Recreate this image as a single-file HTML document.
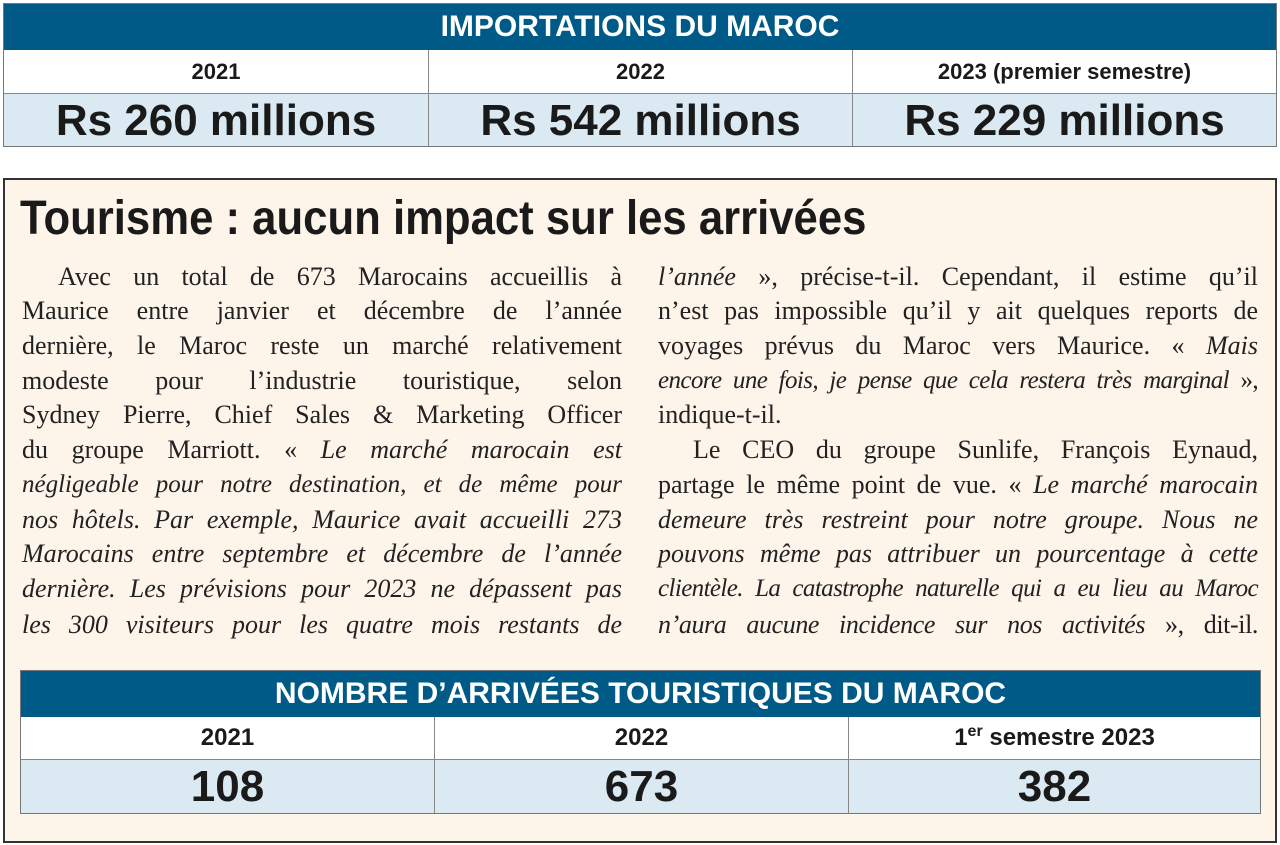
<!DOCTYPE html>
<html><head><meta charset="utf-8"><style>
body{margin:0;width:1280px;height:845px;background:#fff;position:relative;overflow:hidden;font-family:"Liberation Sans",sans-serif}
.t{position:absolute;border:1px solid #777;box-sizing:border-box}
.hd{position:absolute;left:0;right:0;top:0;background:#005a87;color:#fff;text-align:center;font-weight:bold}
.c{position:absolute;text-align:center;font-weight:bold;color:#1a1a1a;box-sizing:border-box}
.w{background:#fff}.b{background:#dbeaf2}
.vl{border-left:1px solid #888}
.box{position:absolute;left:3px;top:178px;width:1274px;height:665px;border:2px solid #333;box-sizing:border-box;background:#fdf4ea}
.ln{position:absolute;font-family:"Liberation Serif",serif;font-size:26px;color:#222;text-align:justify;text-align-last:justify;white-space:nowrap;height:34px;line-height:34px}
.s{font-size:25px}
i{font-style:italic}
</style></head><body>
<div class="t" style="left:3px;top:3px;width:1274px;height:144px">
 <div class="hd" style="height:46px;line-height:46px;font-size:30px">IMPORTATIONS DU MAROC</div>
 <div class="c w" style="left:0;top:46px;width:424px;height:43px;line-height:43px;font-size:22px">2021</div>
 <div class="c w vl" style="left:424px;top:46px;width:424px;height:43px;line-height:43px;font-size:22px">2022</div>
 <div class="c w vl" style="left:848px;top:46px;width:424px;height:43px;line-height:43px;font-size:22px">2023 (premier semestre)</div>
 <div class="c b" style="left:0;top:89px;width:424px;height:53px;line-height:53px;font-size:44px;border-top:1px solid #888">Rs 260 millions</div>
 <div class="c b vl" style="left:424px;top:89px;width:424px;height:53px;line-height:53px;font-size:44px;border-top:1px solid #888">Rs 542 millions</div>
 <div class="c b vl" style="left:848px;top:89px;width:424px;height:53px;line-height:53px;font-size:44px;border-top:1px solid #888">Rs 229 millions</div>
</div>
<div class="box"></div>
<div style="position:absolute;left:20px;top:193px;font-weight:bold;font-size:48px;color:#1a1a1a;line-height:52px;transform:scaleX(0.91);transform-origin:0 0;white-space:nowrap">Tourisme : aucun impact sur les arrivées</div>

<div class="ln" style="left:58px;top:260px;width:564px">Avec un total de 673 Marocains accueillis à</div>
<div class="ln" style="left:22px;top:294px;width:600px">Maurice entre janvier et décembre de l’année</div>
<div class="ln" style="left:22px;top:329px;width:600px">dernière, le Maroc reste un marché relativement</div>
<div class="ln" style="left:22px;top:364px;width:600px">modeste pour l’industrie touristique, selon</div>
<div class="ln" style="left:22px;top:398px;width:600px">Sydney Pierre, Chief Sales &amp; Marketing Officer</div>
<div class="ln" style="left:22px;top:433px;width:600px">du groupe Marriott. « <i>Le marché marocain est</i></div>
<div class="ln s" style="left:22px;top:468px;width:600px"><i>négligeable pour notre destination, et de même pour</i></div>
<div class="ln" style="left:22px;top:503px;width:600px"><i>nos hôtels. Par exemple, Maurice avait accueilli 273</i></div>
<div class="ln" style="left:22px;top:537px;width:600px"><i>Marocains entre septembre et décembre de l’année</i></div>
<div class="ln" style="left:22px;top:572px;width:600px"><i>dernière. Les prévisions pour 2023 ne dépassent pas</i></div>
<div class="ln" style="left:22px;top:608px;width:600px"><i>les 300 visiteurs pour les quatre mois restants de</i></div>

<div class="ln" style="left:658px;top:260px;width:600px"><i>l’année</i> », précise-t-il. Cependant, il estime qu’il</div>
<div class="ln" style="left:658px;top:294px;width:600px">n’est pas impossible qu’il y ait quelques reports de</div>
<div class="ln" style="left:658px;top:329px;width:600px">voyages prévus du Maroc vers Maurice. « <i>Mais</i></div>
<div class="ln s" style="left:658px;top:364px;width:600px;letter-spacing:-0.6px"><i>encore une fois, je pense que cela restera très marginal</i> »,</div>
<div class="ln" style="left:658px;top:398px;width:600px;text-align-last:left">indique-t-il.</div>
<div class="ln" style="left:693px;top:433px;width:565px">Le CEO du groupe Sunlife, François Eynaud,</div>
<div class="ln" style="left:658px;top:468px;width:600px">partage le même point de vue. « <i>Le marché marocain</i></div>
<div class="ln" style="left:658px;top:503px;width:600px"><i>demeure très restreint pour notre groupe. Nous ne</i></div>
<div class="ln" style="left:658px;top:537px;width:600px"><i>pouvons même pas attribuer un pourcentage à cette</i></div>
<div class="ln s" style="left:658px;top:572px;width:600px;letter-spacing:-0.6px"><i>clientèle. La catastrophe naturelle qui a eu lieu au Maroc</i></div>
<div class="ln" style="left:658px;top:608px;width:600px;letter-spacing:-0.4px"><i>n’aura aucune incidence sur nos activités</i> », dit-il.</div>

<div class="t" style="left:20px;top:670px;width:1241px;height:144px">
 <div class="hd" style="height:46px;line-height:46px;font-size:30px">NOMBRE D’ARRIVÉES TOURISTIQUES DU MAROC</div>
 <div class="c w" style="left:0;top:46px;width:413px;height:42px;line-height:42px;font-size:24px">2021</div>
 <div class="c w vl" style="left:413px;top:46px;width:414px;height:42px;line-height:42px;font-size:24px">2022</div>
 <div class="c w vl" style="left:827px;top:46px;width:412px;height:42px;line-height:42px;font-size:24px">1<sup style="font-size:16px;line-height:0">er</sup> semestre 2023</div>
 <div class="c b" style="left:0;top:88px;width:413px;height:54px;line-height:54px;font-size:44px;border-top:1px solid #888">108</div>
 <div class="c b vl" style="left:413px;top:88px;width:414px;height:54px;line-height:54px;font-size:44px;border-top:1px solid #888">673</div>
 <div class="c b vl" style="left:827px;top:88px;width:412px;height:54px;line-height:54px;font-size:44px;border-top:1px solid #888">382</div>
</div>
</body></html>
